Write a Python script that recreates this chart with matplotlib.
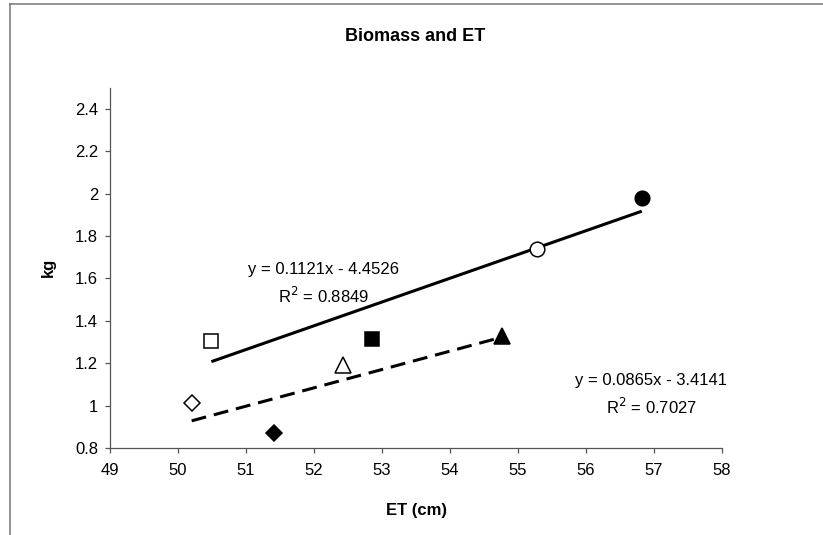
import matplotlib.pyplot as plt
from matplotlib.lines import Line2D
import numpy as np

plt.rcParams['font.family'] = ['Liberation Sans', 'DejaVu Sans']

# 第一组：方块和圆点（实线趋势线）
et_a = [50.49, 52.85, 55.28, 56.82]
kg_a = [1.305, 1.315, 1.74, 1.98]
mk_a = ['s', 's', 'o', 'o']
fill_a = [False, True, False, True]

# 第二组：菱形和三角（虚线趋势线）
et_b = [50.2, 51.41, 52.43, 54.76]
kg_b = [1.01, 0.872, 1.19, 1.33]
mk_b = ['D', 'D', '^', '^']
fill_b = [False, True, False, True]

# 趋势线系数 y = k*x + b
coef_a = (0.1121, -4.4526)
coef_b = (0.0865, -3.4141)
r2_a = 0.8849
r2_b = 0.7027

xticks = np.arange(49, 59, 1)
yticks = np.arange(0.8, 2.41, 0.2)

msize = {'s': 10, 'o': 10.5, 'D': 7.8, '^': 11}

fig = plt.figure(figsize=(8.23, 5.35), dpi=100)
ax = fig.add_axes([0.1337, 0.1626, 0.7436, 0.6737])

for xs, ys, mks, fills in [(et_a, kg_a, mk_a, fill_a), (et_b, kg_b, mk_b, fill_b)]:
    for x, y, m, f in zip(xs, ys, mks, fills):
        ax.plot(x, y, marker=m, ms=msize[m], mec='black', mew=1.1,
                mfc='black' if f else 'white', ls='none', zorder=3)

# 趋势线
xa = np.array([min(et_a), max(et_a)])
ax.plot(xa, coef_a[0] * xa + coef_a[1], color='black', lw=2.2,
        solid_capstyle='butt', zorder=2)
xb = np.array([min(et_b), max(et_b)])
ax.plot(xb, coef_b[0] * xb + coef_b[1], color='black', lw=2.2,
        ls=(0, (4.9, 2.6)), dash_capstyle='butt', zorder=2)

ax.text(52.14, 1.64, 'y = %.4fx - %.4f' % (coef_a[0], -coef_a[1]),
        ha='center', va='center', fontsize=12)
ax.text(52.14, 1.515, 'R$^2$ = %.4f' % r2_a, ha='center', va='center', fontsize=12)
ax.text(56.96, 1.12, 'y = %.4fx - %.4f' % (coef_b[0], -coef_b[1]),
        ha='center', va='center', fontsize=12)
ax.text(56.96, 0.995, 'R$^2$ = %.4f' % r2_b, ha='center', va='center', fontsize=12)

ax.set_xlim(49, 58)
ax.set_ylim(0.8, 2.5)
ax.set_xticks(xticks)
ax.set_yticks(yticks)
ax.set_xticklabels([str(v) for v in xticks])
ax.set_yticklabels(['%g' % round(v, 1) for v in yticks])

for s in ['top', 'right']:
    ax.spines[s].set_visible(False)
for s in ['left', 'bottom']:
    ax.spines[s].set_color('#555555')
    ax.spines[s].set_linewidth(0.9)
ax.tick_params(direction='out', length=3.6, width=0.9, color='#555555',
               labelsize=12)
ax.tick_params(axis='x', pad=7)
ax.tick_params(axis='y', pad=5)

ax.set_xlabel('ET (cm)', fontsize=12, fontweight='bold', labelpad=18)
ax.set_ylabel('kg', fontsize=12, fontweight='bold', labelpad=14)
fig.text(0.505, 0.931, 'Biomass and ET', ha='center', va='center',
         fontsize=13, fontweight='bold')

# 图表区边框（上、左）
fig.add_artist(Line2D([10 / 823, 1], [1 - 4 / 535, 1 - 4 / 535],
                      color='#808080', lw=1.2, transform=fig.transFigure))
fig.add_artist(Line2D([10 / 823, 10 / 823], [0, 1 - 4 / 535],
                      color='#808080', lw=1.2, transform=fig.transFigure))

fig.savefig('out.png', dpi=100)
